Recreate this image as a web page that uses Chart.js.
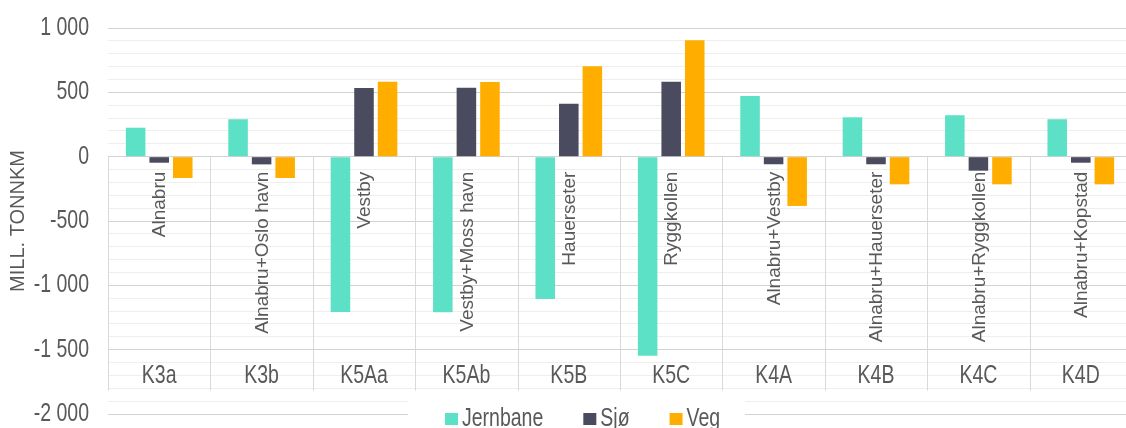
<!DOCTYPE html>
<html>
<head>
<meta charset="utf-8">
<script src="https://cdn.jsdelivr.net/npm/chart.js@4.4.0/dist/chart.umd.min.js"></script>
<style>
  html, body { margin: 0; padding: 0; overflow: hidden; background: #fff; }
  #wrap { width: 1132px; height: 428px; }
</style>
</head>
<body>
<div id="wrap"><canvas id="chart"></canvas></div>
<script>
// data
const categories = ['K3a', 'K3b', 'K5Aa', 'K5Ab', 'K5B', 'K5C', 'K4A', 'K4B', 'K4C', 'K4D']
const scenarios = ['Alnabru', 'Alnabru+Oslo havn', 'Vestby', 'Vestby+Moss havn', 'Hauerseter',
    'Ryggkollen', 'Alnabru+Vestby', 'Alnabru+Hauerseter', 'Alnabru+Ryggkollen', 'Alnabru+Kopstad']
const seriesNames = ['Jernbane', 'Sjø', 'Veg']
const jernbane = [225, 291, -1207, -1209, -1106, -1547, 472, 306, 322, 291]
const sjo = [-47, -60, 534, 536, 412, 583, -59, -59, -109, -47]
const veg = [-166, -166, 583, 580, 703, 905, -383, -215, -215, -215]
const yMin = -2000, yMax = 1000, yMajor = 500, yMinor = 100
const yTitle = 'MILL. TONNKM'

const colors = ['#5ce1c6', '#4b4b5f', '#ffae00']
const textColor = '#595959'
const family = "'Liberation Sans', Arial, sans-serif"
const squeeze = 0.78 // the picture's horizontal text looks condensed

const fmt = v => (v < 0 ? '-' : '') + String(Math.abs(v)).replace(/\B(?=(\d{3})+(?!\d))/g, ' ')

// horizontal text, squeezed sideways
function narrowText(ctx, text, x, y, align) {
    ctx.save()
    ctx.translate(x, y)
    ctx.scale(squeeze, 1)
    ctx.font = '25px ' + family
    ctx.textAlign = align
    ctx.textBaseline = 'middle'
    ctx.fillText(text, 0, 0)
    ctx.restore()
}

// two-level category box under the zero line (Excel style)
const categoryBox = {
    id: 'categoryBox',
    beforeDatasetsDraw(chart) {
        const {ctx, scales: {x, y}} = chart
        const zero = y.getPixelForValue(0)
        const bottom = zero + 234
        ctx.save()
        ctx.strokeStyle = '#d9d9d9'
        ctx.lineWidth = 1
        for (let i = 0; i <= categories.length; i++) {
            const px = Math.round(x.getPixelForValue(i - 0.5)) + 0.5
            ctx.beginPath()
            ctx.moveTo(px, zero)
            ctx.lineTo(px, bottom)
            ctx.stroke()
        }
        ctx.restore()
    },
    afterDatasetsDraw(chart) {
        const {ctx, scales: {x, y}} = chart
        const zero = y.getPixelForValue(0)
        ctx.save()
        ctx.fillStyle = textColor
        for (let i = 0; i < categories.length; i++) {
            const cx = x.getPixelForValue(i)
            // rotated scenario name
            ctx.save()
            ctx.translate(cx + 1, zero + 15)
            ctx.rotate(-Math.PI / 2)
            ctx.font = '19px ' + family
            ctx.textAlign = 'right'
            ctx.textBaseline = 'middle'
            ctx.fillText(scenarios[i], 0, 0)
            ctx.restore()
            // category code
            narrowText(ctx, categories[i], cx, zero + 219, 'center')
        }
        ctx.restore()
    }
}

// y tick labels (major ticks only) and the legend box over the bottom of the plot
const labelsAndLegend = {
    id: 'labelsAndLegend',
    afterDraw(chart) {
        const {ctx, scales: {y}} = chart
        ctx.save()
        ctx.fillStyle = textColor
        y.ticks.forEach(t => {
            if (t.value % yMajor === 0) {
                narrowText(ctx, fmt(t.value), y.right - 19, y.getPixelForValue(t.value), 'right')
            }
        })

        ctx.fillStyle = '#fff'
        ctx.fillRect(408, 395, 337, 33)
        ctx.font = '25px ' + family
        let px = 445
        chart.data.datasets.forEach(ds => {
            ctx.fillStyle = ds.backgroundColor
            ctx.fillRect(px, 413, 13, 12)
            ctx.fillStyle = textColor
            narrowText(ctx, ds.label, px + 17, 419, 'left')
            px += 17 + ctx.measureText(ds.label).width * squeeze + 40
        })
        ctx.restore()
    }
}

const seriesValues = [jernbane, sjo, veg]

new Chart(document.getElementById('chart'), {
    type: 'bar',
    data: {
        labels: categories,
        datasets: seriesNames.map((name, i) => ({
            label: name,
            data: seriesValues[i],
            backgroundColor: colors[i],
            borderWidth: 0,
            categoryPercentage: 0.69,
            barPercentage: 0.83
        }))
    },
    options: {
        responsive: true,
        maintainAspectRatio: false,
        animation: false,
        devicePixelRatio: 1,
        layout: {padding: {top: 28, bottom: 14, left: 0, right: 0}},
        plugins: {legend: {display: false}, tooltip: {enabled: false}},
        scales: {
            x: {display: false},
            y: {
                min: yMin,
                max: yMax,
                afterFit: s => { s.width = 108; s.paddingTop = 0; s.paddingBottom = 0 },
                border: {display: false},
                grid: {
                    drawTicks: false,
                    color: c => (c.tick && c.tick.value % yMajor === 0) ? '#d2d2d2' : '#eeeeee',
                    lineWidth: 1
                },
                ticks: {
                    display: false,
                    stepSize: yMinor,
                    autoSkip: false
                },
                title: {
                    display: true,
                    text: yTitle,
                    color: textColor,
                    font: {family: family, size: 20},
                    padding: {top: 6, bottom: 0}
                }
            }
        }
    },
    plugins: [categoryBox, labelsAndLegend]
})
</script>
</body>
</html>
